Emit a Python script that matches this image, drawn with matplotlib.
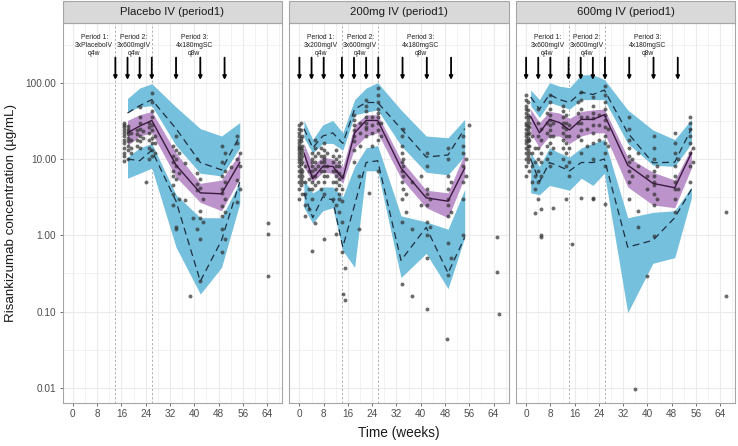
import matplotlib.pyplot as plt
from matplotlib.patches import Rectangle

plt.rcParams["font.family"] = ["Liberation Sans", "DejaVu Sans"]

# ---------------------------------------------------------------- data
TITLES = ["Placebo IV (period1)", "200mg IV (period1)", "600mg IV (period1)"]
PERIOD1_TXT = ["3xPlaceboIV", "3x200mgIV", "3x600mgIV"]
PERIOD_X = [7, 20, 40]
PERIOD_BREAKS = [14, 26]
DOSES_PBO = [14, 18, 22, 26, 34, 42, 50]
DOSES_ACT = [0, 4, 8, 14, 18, 22, 26, 34, 42, 50]
X_TICKS = [0, 8, 16, 24, 32, 40, 48, 56, 64]
Y_TICKS = [0.01, 0.1, 1, 10, 100]

# placebo arm: bins, observed percentiles and simulated CIs
PBO_BIN = [18, 22, 26, 34, 42, 49, 55]
PBO_OBS05 = [10, 9.5, 13, 2.8, 0.25, 0.86, 5]
PBO_OBS50 = [22, 27, 32, 8.3, 3.6, 3.5, 9]
PBO_OBS95 = [40, 50, 60, 25, 9, 7.2, 20]
PBO_LO05 = [5.6, 6.5, 7.6, 0.7, 0.17, 0.38, 2.6]
PBO_HI05 = [10.6, 14, 16, 3.4, 1.7, 1.7, 5]
PBO_LO50 = [15, 20, 22, 5.8, 2.7, 2.1, 5.6]
PBO_HI50 = [32, 38, 42, 12, 4.8, 5.3, 12]
PBO_LO95 = [42, 48, 50, 15, 6.5, 6.0, 14]
PBO_HI95 = [62, 85, 97, 48, 25, 20, 30]

# 200 mg arm
D200_BIN = [1.5, 4.4, 7.7, 11, 14.3, 18.2, 22, 25.8, 33.5, 41.8, 49, 54.5]
D200_OBS05 = [3.6, 1.7, 3.2, 2.9, 0.7, 2.5, 9, 9.5, 0.47, 1.27, 0.32, 0.94]
D200_OBS50 = [12, 5.5, 8, 8, 5.5, 22, 32, 32, 7.6, 3.1, 2.8, 7.6]
D200_OBS95 = [25, 14, 20, 22, 16, 45, 55, 55, 25, 10.6, 11.3, 25]
D200_LO05 = [2.3, 1.44, 2.1, 2.3, 0.63, 0.38, 7, 7, 0.28, 0.58, 0.2, 0.94]
D200_HI05 = [5.3, 3.6, 4.3, 4.3, 3.2, 8, 14, 15, 1.8, 1.5, 1.2, 4]
D200_LO50 = [7.9, 5, 6.7, 6.5, 4.8, 14, 20, 22, 5.6, 2.3, 1.7, 5.8]
D200_HI50 = [16, 8.3, 10.6, 10, 7.9, 28, 38, 38, 9.7, 3.9, 3.6, 12]
D200_LO95 = [19, 12, 16, 16, 13, 38, 41, 44, 15, 6.7, 6.2, 11]
D200_HI95 = [32, 18, 28, 32, 22, 60, 85, 100, 44, 20, 19, 33]

# 600 mg arm
D600_BIN = [1.5, 4.4, 7.7, 11, 14.3, 18.2, 22, 25.8, 33.5, 41.8, 49, 54.5]
D600_OBS05 = [10, 5, 9, 8, 7, 9, 9, 10, 0.7, 0.86, 1.7, 4]
D600_OBS50 = [36, 22, 33, 30, 24, 33, 33, 38, 8.3, 4.8, 4.2, 12]
D600_OBS95 = [65, 45, 70, 60, 55, 75, 70, 80, 22, 8.9, 9.1, 25]
D600_LO05 = [3.6, 3.4, 4.5, 4.2, 3.9, 5.6, 4.5, 6.5, 0.097, 0.43, 0.51, 3.1]
D600_HI05 = [12, 8, 14, 12, 10.6, 14, 16, 18, 1.7, 2, 2.1, 4.3]
D600_LO50 = [22, 14, 20, 20, 16, 20, 22, 22, 4.3, 2.5, 2.3, 7.6]
D600_HI50 = [45, 30, 42, 40, 34, 42, 44, 45, 10.6, 6.7, 5.3, 14]
D600_LO95 = [50, 35, 55, 50, 45, 60, 60, 60, 16, 8.3, 8, 16]
D600_HI95 = [80, 60, 100, 90, 86, 127, 127, 110, 44, 24, 18, 33]

# observed concentrations, grouped by time (weeks)
PBO_PTS = [
    (17, [9.5, 11, 12, 14, 16, 18, 20, 22, 24, 26, 28, 30]),
    (18, [10, 13, 15, 17, 19, 21, 23, 25, 27]),
    (19, [12, 14, 18, 22]),
    (21, [15, 18, 21, 24]),
    (22, [14, 17, 20, 25, 30, 36, 48]),
    (23, [19, 23]),
    (24, [5.0]),
    (25, [10, 14, 18, 22, 26, 30]),
    (26, [11, 13, 16, 19, 24, 28, 35, 42, 55, 73]),
    (27, [12, 16, 20]),
    (33, [15, 11, 9, 7, 6, 4.5, 3.5, 2.5]),
    (34, [20, 13, 10, 8, 5.5, 1.3, 1.2]),
    (35, [12, 6.5, 3]),
    (37, [8.9, 2.9]),
    (38.6, [0.16]),
    (39.7, [1.7]),
    (41, [10, 6.5, 4.7, 3.9, 1.2]),
    (42, [5.5, 4.2, 2.1, 1.7, 0.9, 0.25]),
    (43, [3.0, 1.5]),
    (49, [15, 9, 6, 4, 3.6, 2.4, 1.8, 1.2, 0.6]),
    (50, [12, 7, 5, 3, 2, 0.89]),
    (52, [7.9]),
    (54, [16, 20, 10, 5.3, 2.7]),
    (55, [12, 8, 4]),
    (64.4, [1.45, 1.03, 0.29]),
]
D200_PTS = [
    (0, [3, 4, 5, 6, 7, 8, 9, 10, 11, 12, 13, 14, 15, 16, 18, 20, 22, 25, 28]),
    (0.5, [4.5, 5.5, 6.5, 7.5, 8.5, 10, 12, 14, 17, 19, 24, 30]),
    (1, [3.5, 5, 6, 7, 9, 11, 13, 15, 20]),
    (2, [1.8, 2.5, 3.5, 5, 8]),
    (3, [2.2, 4, 5.5, 7]),
    (4, [0.63, 3, 4, 5, 6, 7, 8, 9, 10, 12]),
    (5, [1.44, 4.5, 6, 7.5, 9, 11, 14, 18]),
    (6, [5, 8, 12]),
    (7, [4, 7, 9, 11, 14]),
    (8, [0.89, 3.5, 5, 6, 7, 8, 9, 10, 11, 13, 16]),
    (9, [6, 8, 12]),
    (11, [3, 5, 7, 9, 11]),
    (12, [1.03, 2.5, 4, 5, 6, 7, 8, 10, 13]),
    (13, [2, 3, 3.5, 4.5, 5.5, 6.5, 8, 9, 11]),
    (14, [0.6, 1.5, 2.8, 4, 6]),
    (14.5, [0.17]),
    (15, [0.37, 0.14]),
    (18, [9, 13, 17, 20, 24, 28, 32, 38]),
    (19.8, [1.2, 6]),
    (20, [15, 22, 30]),
    (22, [20, 25, 30, 35, 42, 50, 60, 26]),
    (22.8, [3.6]),
    (24, [15, 22, 28, 35]),
    (26, [6.9, 18, 24, 30, 36, 40, 45, 55, 70, 85]),
    (27, [20, 30]),
    (33.7, [0.23, 1.5, 3, 5, 7, 9, 12, 15, 20]),
    (34, [4, 6, 8, 10, 25]),
    (35, [2, 3.5]),
    (37, [0.16, 1.2, 5]),
    (40, [2.5, 6]),
    (42, [0.107, 0.5, 1.0, 1.5, 2.5, 3.5, 4, 8, 12]),
    (43, [3, 1.3]),
    (48.5, [0.044]),
    (49, [0.3, 0.8, 1.8, 2.5, 3, 4, 6, 10, 14]),
    (50, [2, 5, 0.5]),
    (54, [1.0, 3, 5, 8, 12, 15, 20]),
    (55, [6, 10]),
    (56, [28]),
    (65, [0.94, 0.33]),
    (65.7, [0.094]),
]
D600_PTS = [
    (0, [6, 8, 10, 12, 14, 16, 18, 20, 22, 25, 28, 30, 35, 40, 45, 50, 60, 70]),
    (0.5, [9, 11, 13, 15, 17, 19, 21, 24, 27, 32, 38, 44, 55]),
    (1, [7, 10, 12, 15, 18, 22, 26, 30, 36]),
    (2, [5, 8, 12, 20]),
    (3, [1.95, 4, 6, 9, 14]),
    (4, [3, 5, 7, 10, 14, 20, 30, 45]),
    (4.8, [2.2, 1.0, 0.94]),
    (5, [6, 9, 12, 18, 25]),
    (7, [10, 15, 22, 30, 40]),
    (8, [8, 12, 16, 20, 24, 28, 32, 38, 45, 55, 70]),
    (9, [2.3, 14, 20, 30]),
    (12, [10, 14, 18, 22, 26, 30, 35, 42, 50]),
    (13, [3, 8, 12, 16, 20, 25, 30, 38]),
    (14, [6, 9, 14, 20, 28]),
    (15, [0.76]),
    (17, [20, 30, 40, 55]),
    (18, [3.1, 12, 18, 24, 30, 36, 45, 60, 75]),
    (20, [15, 25, 35]),
    (22, [3, 3.1, 10, 16, 22, 28, 34, 40, 50, 65]),
    (24, [18, 28, 38]),
    (26, [2.6, 8, 12, 16, 20, 26, 32, 38, 45, 55, 70, 90]),
    (27, [15, 25]),
    (34, [3, 5, 7, 9, 11, 14, 18, 25, 35]),
    (35, [6, 10]),
    (36, [0.0097]),
    (37, [2.1, 1.27, 8, 12]),
    (40, [0.29, 4, 6]),
    (42, [0.97, 2.5, 3.5, 4.5, 5, 6, 7, 10, 14, 20]),
    (43, [3, 8]),
    (49, [2, 3, 4, 5, 6, 8, 12, 16, 22]),
    (50, [4, 10]),
    (54, [5, 8, 12, 16, 20, 25, 30, 35]),
    (55, [9, 14]),
    (66, [2.0, 0.16]),
]

# ---------------------------------------------------------------- style
BLUE = "#74C0DD"
PURPLE = "#BC93CB"
LINE = "#1F2F3F"
MEDIAN = "#3A1A3F"
BORDER = "#A6A6A6"
GRID = "#EBEBEB"

FIG_W, FIG_H = 738, 446
PANEL_LEFT = [62.6, 289.1, 515.8]
PANEL_W = 219.6
PANEL_TOP, PANEL_BOTTOM = 23, 403
XLIM = (-3.4, 69)
YLIM = (10 ** -2.197, 10 ** 2.782)


def _flatten(pts):
    xs, ys = [], []
    for week, vals in pts:
        xs += [week] * len(vals)
        ys += list(vals)
    return xs, ys


def draw_panel(ax, title, p1txt, doses, bins, obs, sim, pts, show_y):
    obs05, obs50, obs95 = obs
    lo05, hi05, lo50, hi50, lo95, hi95 = sim

    ax.set_yscale("log")
    ax.set_xlim(*XLIM)
    ax.set_ylim(*YLIM)

    # grid
    ax.set_xticks(X_TICKS)
    ax.set_xticks([x + 4 for x in X_TICKS], minor=True)
    ax.set_yticks(Y_TICKS)
    ax.set_yticks([v * 10 ** 0.5 for v in Y_TICKS], minor=True)
    ax.grid(which="major", color=GRID, lw=0.8)
    ax.grid(which="minor", color=GRID, lw=0.45)
    ax.set_axisbelow(True)

    for xb in PERIOD_BREAKS:
        ax.axvline(xb, color="#A0A0A0", lw=0.6, ls=(0, (2.5, 2.5)), zorder=1)

    ax.fill_between(bins, lo95, hi95, color=BLUE, lw=0, zorder=2)
    ax.fill_between(bins, lo05, hi05, color=BLUE, lw=0, zorder=2)
    ax.fill_between(bins, lo50, hi50, color=PURPLE, lw=0, zorder=2)

    xs, ys = _flatten(pts)
    ax.scatter(xs, ys, s=8, color="#333333", alpha=0.72, lw=0, zorder=3)

    ax.plot(bins, obs05, color=LINE, lw=0.9, ls=(0, (5.5, 3.5)), zorder=4)
    ax.plot(bins, obs95, color=LINE, lw=0.9, ls=(0, (5.5, 3.5)), zorder=4)
    ax.plot(bins, obs50, color=MEDIAN, lw=1.0, zorder=4)

    # dosing arrows and period labels
    for d in doses:
        ax.annotate("", xy=(d, 109), xytext=(d, 213),
                    arrowprops=dict(arrowstyle="-|>", color="black", lw=1.3,
                                    mutation_scale=5, shrinkA=0, shrinkB=0),
                    zorder=5)
    labels = [f"Period 1:\n{p1txt}\nq4w", "Period 2:\n3x600mgIV\nq4w",
              "Period 3:\n4x180mgSC\nq8w"]
    for x, lab in zip(PERIOD_X, labels):
        ax.text(x, 307, lab, ha="center", va="center", fontsize=4.9,
                linespacing=1.15, color="#222222", zorder=5)

    for side in ax.spines.values():
        side.set_color(BORDER)
        side.set_linewidth(0.8)
    ax.tick_params(which="major", length=2.5, width=0.6, color="#555555",
                   labelsize=7.2, labelcolor="#4D4D4D", pad=2)
    ax.tick_params(which="minor", length=0)
    ax.set_yticklabels(["0.01", "0.10", "1.00", "10.00", "100.00"])
    if not show_y:
        ax.tick_params(axis="y", which="major", length=0, labelleft=False)

    # facet strip
    strip_h = (PANEL_TOP - 1) / (PANEL_BOTTOM - PANEL_TOP)
    ax.add_patch(Rectangle((0, 1), 1, strip_h, transform=ax.transAxes,
                           facecolor="#D9D9D9", edgecolor=BORDER, lw=0.8,
                           clip_on=False))
    ax.text(0.5, 1 + strip_h / 2, title, transform=ax.transAxes,
            ha="center", va="center", fontsize=8.2, color="#1A1A1A")


fig = plt.figure(figsize=(FIG_W / 100, FIG_H / 100), dpi=100)

panel_args = [
    (DOSES_PBO, PBO_BIN, (PBO_OBS05, PBO_OBS50, PBO_OBS95),
     (PBO_LO05, PBO_HI05, PBO_LO50, PBO_HI50, PBO_LO95, PBO_HI95), PBO_PTS),
    (DOSES_ACT, D200_BIN, (D200_OBS05, D200_OBS50, D200_OBS95),
     (D200_LO05, D200_HI05, D200_LO50, D200_HI50, D200_LO95, D200_HI95), D200_PTS),
    (DOSES_ACT, D600_BIN, (D600_OBS05, D600_OBS50, D600_OBS95),
     (D600_LO05, D600_HI05, D600_LO50, D600_HI50, D600_LO95, D600_HI95), D600_PTS),
]

for i, (doses, bins, obs, sim, pts) in enumerate(panel_args):
    ax = fig.add_axes([PANEL_LEFT[i] / FIG_W, 1 - PANEL_BOTTOM / FIG_H,
                       PANEL_W / FIG_W, (PANEL_BOTTOM - PANEL_TOP) / FIG_H])
    draw_panel(ax, TITLES[i], PERIOD1_TXT[i], doses, bins, obs, sim, pts, i == 0)

fig.text((PANEL_LEFT[0] + PANEL_LEFT[2] + PANEL_W) / 2 / FIG_W, 1 - 433 / FIG_H,
         "Time (weeks)", ha="center", va="center", fontsize=9.8, color="#1A1A1A")
fig.text(11 / FIG_W, 1 - 213 / FIG_H, "Risankizumab concentration (µg/mL)",
         ha="center", va="center", rotation=90, fontsize=9.6, color="#1A1A1A")

fig.savefig("out.png", dpi=100)
